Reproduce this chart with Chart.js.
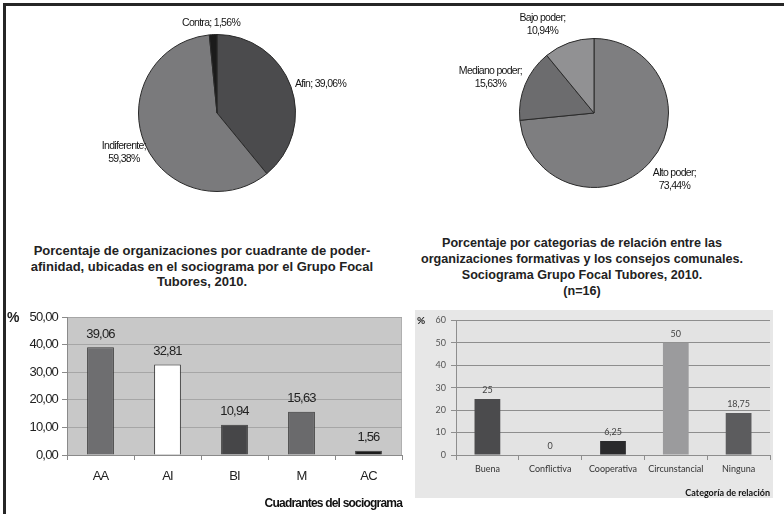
<!DOCTYPE html>
<html>
<head>
<meta charset="utf-8">
<script src="https://cdn.jsdelivr.net/npm/chart.js@4/dist/chart.umd.min.js"></script>
<style>
  html, body { margin:0; padding:0; background:#fff; }
  body { width:784px; height:514px; position:relative; overflow:hidden; font-family:"Liberation Sans", Arial, sans-serif; }
  .box { position:absolute; }
  .frameL { position:absolute; left:3px; top:3px; width:3px; height:511px; background:#262626; }
  .frameT { position:absolute; left:3px; top:3px; width:781px; height:3px; background:#262626; }
  .title { position:absolute; text-align:center; font-weight:bold; font-size:13px; color:#222; white-space:nowrap; }
  .pct { position:absolute; font-weight:bold; color:#222; }
</style>
</head>
<body>
<div class="frameL"></div>
<div class="frameT"></div>

<div class="box" style="left:60px;top:5px;width:330px;height:210px;"><canvas id="pie1"></canvas></div>
<div class="box" style="left:420px;top:5px;width:350px;height:210px;"><canvas id="pie2"></canvas></div>

<div class="title" style="left:0px;top:243px;width:404px;line-height:15.5px;">Porcentaje de organizaciones por cuadrante de poder-<br>afinidad, ubicadas en el sociograma por el Grupo Focal<br>Tubores, 2010.</div>
<div class="title" style="left:402px;top:235px;width:360px;line-height:16px;font-size:12.6px;">Porcentaje por categorias de relación entre las<br>organizaciones formativas y los consejos comunales.<br>Sociograma Grupo Focal Tubores, 2010.<br>(n=16)</div>

<div class="box" style="left:0px;top:305px;width:410px;height:209px;"><canvas id="bar1"></canvas></div>
<div class="box" style="left:415px;top:310px;width:358px;height:188px;"><canvas id="bar2"></canvas></div>

<div class="pct" style="left:7px;top:309px;font-size:14px;letter-spacing:-1px;">%</div>
<div class="pct" style="left:417px;top:314px;font-size:10px;font-family:Lato, sans-serif;">%</div>

<script>
// ---------- DATA ----------
const affinityLabels = ['Afin', 'Indiferente', 'Contra'];
const affinityValues = [39.06, 59.38, 1.56];

const powerLabels = ['Alto poder', 'Mediano poder', 'Bajo poder'];
const powerValues = [73.44, 15.63, 10.94];

const quadrantCats = ['AA', 'AI', 'BI', 'M', 'AC'];
const quadrantValues = [39.06, 32.81, 10.94, 15.63, 1.56];

const relationCats = ['Buena', 'Conflictiva', 'Cooperativa', 'Circunstancial', 'Ninguna'];
const relationValues = [25, 0, 6.25, 50, 18.75];

// ---------- helpers ----------
const comma = (v, d) => (d === undefined ? String(v) : v.toFixed(d)).replace('.', ',');

const pieLabelPlugin = {
  id: 'pieLabels',
  afterDraw(chart, args, opts) {
    const ctx = chart.ctx;
    const meta = chart.getDatasetMeta(0);
    const ds = chart.data.datasets[0];
    ctx.save();
    ctx.font = opts.font;
    ctx.fillStyle = opts.color;
    ctx.letterSpacing = opts.letterSpacing || '0px';
    ctx.textAlign = 'center';
    ctx.textBaseline = 'middle';
    meta.data.forEach((arc, i) => {
      const p = arc.getProps(['x', 'y', 'startAngle', 'endAngle', 'outerRadius'], true);
      const place = opts.place[i];
      const mid = (p.startAngle + p.endAngle) / 2 + place.da * Math.PI / 180;
      const r = p.outerRadius * place.f;
      const cx = p.x + Math.cos(mid) * r;
      const cy = p.y + Math.sin(mid) * r;
      const name = chart.data.labels[i] + ';';
      const val = comma(ds.data[i], 2) + '%';
      if (place.wrap) {
        ctx.fillText(name, cx, cy - 6.5);
        ctx.fillText(val, cx, cy + 6.5);
      } else {
        ctx.fillText(name + ' ' + val, cx, cy);
      }
    });
    ctx.restore();
  }
};

const plotBgPlugin = {
  id: 'plotBg',
  beforeDraw(chart, args, opts) {
    const { ctx, chartArea: a } = chart;
    ctx.save();
    if (opts.canvasColor) {
      ctx.fillStyle = opts.canvasColor;
      ctx.fillRect(0, 0, chart.width, chart.height);
    }
    ctx.fillStyle = opts.color;
    ctx.fillRect(a.left, a.top, a.right - a.left, a.bottom - a.top);
    if (opts.borderColor) {
      ctx.strokeStyle = opts.borderColor;
      ctx.lineWidth = 1;
      ctx.strokeRect(a.left + 0.5, a.top + 0.5, a.right - a.left - 1, a.bottom - a.top);
    }
    ctx.restore();
  }
};

const barLabelPlugin = {
  id: 'barLabels',
  afterDatasetsDraw(chart, args, opts) {
    const ctx = chart.ctx;
    const meta = chart.getDatasetMeta(0);
    const ds = chart.data.datasets[0];
    ctx.save();
    ctx.font = opts.font;
    ctx.fillStyle = opts.color;
    ctx.letterSpacing = opts.letterSpacing || '0px';
    ctx.textAlign = 'center';
    ctx.textBaseline = 'middle';
    meta.data.forEach((bar, i) => {
      const p = bar.getProps(['x', 'y'], true);
      ctx.fillText(opts.format(ds.data[i]), p.x, p.y - opts.offset);
    });
    ctx.restore();
  }
};

const spacingPlugin = {
  id: 'spacing',
  beforeDraw(chart, args, opts) { chart.ctx.letterSpacing = opts.value || '0px'; },
  afterDraw(chart) { chart.ctx.letterSpacing = '0px'; }
};

Chart.defaults.animation = false;
Chart.defaults.responsive = true;
Chart.defaults.maintainAspectRatio = false;
Chart.defaults.font.family = '"Liberation Sans", Arial, sans-serif';

// ---------- PIE 1 ----------
new Chart(document.getElementById('pie1'), {
  type: 'pie',
  data: {
    labels: affinityLabels,
    datasets: [{
      data: affinityValues,
      backgroundColor: ['#4b4b4d', '#7a7a7c', '#1b1b1b'],
      borderColor: '#2a2a2a',
      borderWidth: 1
    }]
  },
  options: {
    layout: { padding: { left: 78, right: 94, top: 29, bottom: 23 } },
    plugins: {
      legend: { display: false },
      tooltip: { enabled: false },
      pieLabels: {
        font: '10.5px "Liberation Sans", Arial, sans-serif',
        color: '#151515',
        letterSpacing: '-0.7px',
        place: [
          { f: 1.37, da: 4, wrap: false },
          { f: 1.29, da: -0.6, wrap: true },
          { f: 1.15, da: -1, wrap: false }
        ]
      }
    }
  },
  plugins: [pieLabelPlugin]
});

// ---------- PIE 2 ----------
new Chart(document.getElementById('pie2'), {
  type: 'pie',
  data: {
    labels: powerLabels,
    datasets: [{
      data: powerValues,
      backgroundColor: ['#7e7e80', '#6c6c6e', '#919193'],
      borderColor: '#2a2a2a',
      borderWidth: 1
    }]
  },
  options: {
    layout: { padding: { left: 99, right: 101, top: 33, bottom: 27 } },
    plugins: {
      legend: { display: false },
      tooltip: { enabled: false },
      pieLabels: {
        font: '10.5px "Liberation Sans", Arial, sans-serif',
        color: '#151515',
        letterSpacing: '-0.7px',
        place: [
          { f: 1.40, da: -2.6, wrap: true },
          { f: 1.47, da: -3.5, wrap: true },
          { f: 1.37, da: -10.6, wrap: true }
        ]
      }
    }
  },
  plugins: [pieLabelPlugin]
});

// ---------- BAR 1 ----------
new Chart(document.getElementById('bar1'), {
  type: 'bar',
  data: {
    labels: quadrantCats,
    datasets: [{
      data: quadrantValues,
      backgroundColor: ['#6e6e70', '#ffffff', '#464648', '#6a6a6c', '#1c1c1c'],
      borderColor: '#3a3a3a',
      borderWidth: 1,
      categoryPercentage: 1,
      barPercentage: 0.4
    }]
  },
  options: {
    layout: { padding: { left: 0, right: 8, top: 12, bottom: 0 } },
    scales: {
      y: {
        min: 0, max: 50,
        afterFit: s => { s.width = 67; },
        ticks: {
          stepSize: 10,
          callback: v => comma(v, 2),
          font: { size: 13 },
          color: '#222',
          padding: 4
        },
        grid: { color: '#a6a6a6', tickColor: '#8a8a8a', tickLength: 5 },
        border: { color: '#8a8a8a' }
      },
      x: {
        afterFit: s => { s.height = 59; },
        ticks: { font: { size: 13 }, color: '#222', padding: 9 },
        grid: { offset: true, drawOnChartArea: false, tickLength: 5, tickColor: '#8a8a8a' },
        border: { color: '#8a8a8a' },
        title: {
          display: true,
          text: 'Cuadrantes del sociograma',
          align: 'end',
          color: '#111',
          font: { size: 12, weight: 'bold' },
          padding: { top: 4, bottom: 3 }
        }
      }
    },
    plugins: {
      legend: { display: false },
      tooltip: { enabled: false },
      spacing: { value: '-0.8px' },
      plotBg: { color: '#c8c8c8', borderColor: '#b0b0b0' },
      barLabels: {
        font: '13px "Liberation Sans", Arial, sans-serif',
        color: '#222',
        letterSpacing: '-0.8px',
        offset: 13,
        format: v => comma(v, 2)
      }
    }
  },
  plugins: [spacingPlugin, plotBgPlugin, barLabelPlugin]
});

// ---------- BAR 2 ----------
new Chart(document.getElementById('bar2'), {
  type: 'bar',
  data: {
    labels: relationCats,
    datasets: [{
      data: relationValues,
      backgroundColor: ['#4b4b4d', '#4b4b4d', '#2a2a2c', '#9b9b9d', '#5c5c5e'],
      borderWidth: 0,
      categoryPercentage: 1,
      barPercentage: 0.41
    }]
  },
  options: {
    layout: { padding: { left: 0, right: 3, top: 5, bottom: 0 } },
    scales: {
      y: {
        min: 0, max: 60,
        afterFit: s => { s.width = 41; },
        ticks: { stepSize: 10, font: { family: 'Lato, sans-serif', size: 9 }, color: '#555', padding: 5 },
        grid: { color: '#8e8e8e', tickColor: '#8e8e8e', tickLength: 5 },
        border: { color: '#8e8e8e' }
      },
      x: {
        afterFit: s => { s.height = 43; },
        ticks: { font: { family: 'Lato, sans-serif', size: 9 }, color: '#333', padding: 4 },
        grid: { offset: true, drawOnChartArea: false, tickLength: 5, tickColor: '#8e8e8e' },
        border: { color: '#8e8e8e' },
        title: {
          display: true,
          text: 'Categoría de relación',
          align: 'end',
          color: '#111',
          font: { family: 'Lato, sans-serif', size: 9, weight: 'bold' },
          padding: { top: 0, bottom: 0 }
        }
      }
    },
    plugins: {
      legend: { display: false },
      tooltip: { enabled: false },
      plotBg: { canvasColor: '#e7e7e7', color: '#e3e3e3' },
      barLabels: {
        font: '9px Lato, sans-serif',
        color: '#444',
        offset: 9,
        format: v => comma(v)
      }
    }
  },
  plugins: [plotBgPlugin, barLabelPlugin]
});
</script>
</body>
</html>
